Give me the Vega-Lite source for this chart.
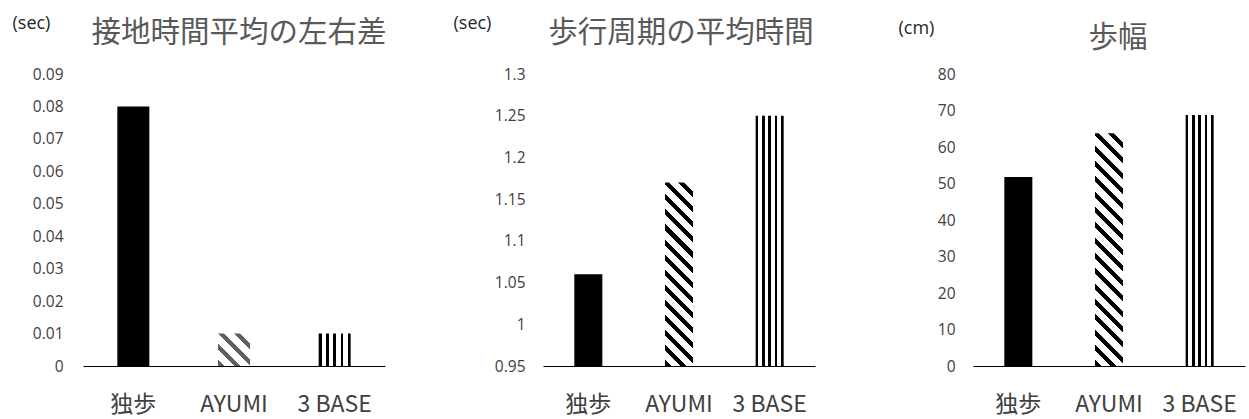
{
  "$schema": "https://vega.github.io/schema/vega-lite/v6.json",
  "padding": {"left": 12, "top": 14, "right": 2, "bottom": 4},
  "bounds": "flush",
  "spacing": 158,
  "background": "white",
  "config": {
    "view": {"stroke": null},
    "axis": {"grid": false, "ticks": false},
    "axisX": {
      "title": null, "labelAngle": 0, "domainColor": "#000000", "domainWidth": 1.2,
      "labelFont": "Noto Sans CJK JP", "labelFontSize": 23, "labelColor": "#404040", "labelPadding": 27
    },
    "axisY": {
      "domain": false, "labelFont": "Open Sans", "labelFontSize": 15.5, "labelColor": "#404040",
      "labelPadding": 18,
      "titleAngle": 0, "titleAlign": "left", "titleBaseline": "middle", "titleFont": "Open Sans",
      "titleFontSize": 18, "titleFontWeight": "normal", "titleColor": "#262626"
    },
    "title": {"font": "Noto Sans CJK JP", "fontSize": 29.5, "fontWeight": "normal", "color": "#595959", "anchor": "middle", "offset": -34.5}
  },
  "datasets": {
    "contact": [
      {"category": "独歩", "value": 0.08},
      {"category": "AYUMI", "value": 0.01},
      {"category": "3 BASE", "value": 0.01}
    ],
    "cycle": [
      {"category": "独歩", "value": 1.06},
      {"category": "AYUMI", "value": 1.17},
      {"category": "3 BASE", "value": 1.25}
    ],
    "stride": [
      {"category": "独歩", "value": 51.8},
      {"category": "AYUMI", "value": 63.8},
      {"category": "3 BASE", "value": 68.8}
    ]
  },
  "hconcat": [
    {
      "width": 302, "height": 292,
      "title": {"text": "接地時間平均の左右差", "dx": 5},
      "data": {"name": "contact"},
      "encoding": {
        "x": {"field": "category", "type": "nominal", "sort": null,
              "scale": {"domain": ["独歩", "AYUMI", "3 BASE"], "paddingInner": 0.682, "paddingOuter": 0.341}},
        "y": {"field": "value", "type": "quantitative",
              "scale": {"domain": [0, 0.09], "nice": false},
              "axis": {"values": [0, 0.01, 0.02, 0.03, 0.04, 0.05, 0.06, 0.07, 0.08, 0.09], "labelPadding": 20, "format": "~g",
                       "title": "(sec)", "titleX": -71, "titleY": -51}}
      },
      "layer": [
        {"transform": [{"filter": "datum.category === '独歩'"}], "mark": {"type": "bar", "fill": "#000000"}},
        {"transform": [{"filter": "datum.category === 'AYUMI'"}], "mark": {"type": "bar", "fill": {
          "gradient": "linear", "x1": 0, "y1": 1, "x2": 0.9937, "y2": -0.0062,
          "stops": [
            {"offset": 0, "color": "#606060"}, {"offset": 0.1, "color": "#606060"},
            {"offset": 0.1, "color": "#ffffff"}, {"offset": 0.25, "color": "#ffffff"},
            {"offset": 0.25, "color": "#606060"}, {"offset": 0.35, "color": "#606060"},
            {"offset": 0.35, "color": "#ffffff"}, {"offset": 0.5, "color": "#ffffff"},
            {"offset": 0.5, "color": "#606060"}, {"offset": 0.6, "color": "#606060"},
            {"offset": 0.6, "color": "#ffffff"}, {"offset": 0.75, "color": "#ffffff"},
            {"offset": 0.75, "color": "#606060"}, {"offset": 0.85, "color": "#606060"},
            {"offset": 0.85, "color": "#ffffff"}, {"offset": 1, "color": "#ffffff"}
          ]}}},
        {"transform": [{"filter": "datum.category === '3 BASE'"}], "mark": {"type": "bar", "fill": {
          "gradient": "linear", "x1": 0, "y1": 0, "x2": 1, "y2": 0,
          "stops": [
            {"offset": 0, "color": "#000000"}, {"offset": 0.09, "color": "#000000"},
            {"offset": 0.09, "color": "#ffffff"}, {"offset": 0.2275, "color": "#ffffff"},
            {"offset": 0.2275, "color": "#000000"}, {"offset": 0.3175, "color": "#000000"},
            {"offset": 0.3175, "color": "#ffffff"}, {"offset": 0.455, "color": "#ffffff"},
            {"offset": 0.455, "color": "#000000"}, {"offset": 0.545, "color": "#000000"},
            {"offset": 0.545, "color": "#ffffff"}, {"offset": 0.6825, "color": "#ffffff"},
            {"offset": 0.6825, "color": "#000000"}, {"offset": 0.7725, "color": "#000000"},
            {"offset": 0.7725, "color": "#ffffff"}, {"offset": 0.91, "color": "#ffffff"},
            {"offset": 0.91, "color": "#000000"}, {"offset": 1, "color": "#000000"}
          ]}}}
      ]
    },
    {
      "width": 272, "height": 292,
      "title": {"text": "歩行周期の平均時間", "dx": 2},
      "data": {"name": "cycle"},
      "encoding": {
        "x": {"field": "category", "type": "nominal", "sort": null,
              "scale": {"domain": ["独歩", "AYUMI", "3 BASE"], "paddingInner": 0.691, "paddingOuter": 0.3455}},
        "y": {"field": "value", "type": "quantitative",
              "scale": {"domain": [0.95, 1.3], "nice": false, "zero": false},
              "axis": {"values": [0.95, 1, 1.05, 1.1, 1.15, 1.2, 1.25, 1.3], "format": "~g",
                       "title": "(sec)", "titleX": -90, "titleY": -51}},
        "y2": {"datum": 0.95}
      },
      "layer": [
        {"transform": [{"filter": "datum.category === '独歩'"}], "mark": {"type": "bar", "fill": "#000000"}},
        {"transform": [{"filter": "datum.category === 'AYUMI'"}], "mark": {"type": "bar", "fill": {
          "gradient": "linear", "x1": 0, "y1": 1, "x2": 0.17187, "y2": -0.12636,
          "stops": [
            {"offset": 0, "color": "#000000"}, {"offset": 0.028571, "color": "#000000"},
            {"offset": 0.028571, "color": "#ffffff"}, {"offset": 0.071429, "color": "#ffffff"},
            {"offset": 0.071429, "color": "#000000"}, {"offset": 0.1, "color": "#000000"},
            {"offset": 0.1, "color": "#ffffff"}, {"offset": 0.142857, "color": "#ffffff"},
            {"offset": 0.142857, "color": "#000000"}, {"offset": 0.171429, "color": "#000000"},
            {"offset": 0.171429, "color": "#ffffff"}, {"offset": 0.214286, "color": "#ffffff"},
            {"offset": 0.214286, "color": "#000000"}, {"offset": 0.242857, "color": "#000000"},
            {"offset": 0.242857, "color": "#ffffff"}, {"offset": 0.285714, "color": "#ffffff"},
            {"offset": 0.285714, "color": "#000000"}, {"offset": 0.314286, "color": "#000000"},
            {"offset": 0.314286, "color": "#ffffff"}, {"offset": 0.357143, "color": "#ffffff"},
            {"offset": 0.357143, "color": "#000000"}, {"offset": 0.385714, "color": "#000000"},
            {"offset": 0.385714, "color": "#ffffff"}, {"offset": 0.428571, "color": "#ffffff"},
            {"offset": 0.428571, "color": "#000000"}, {"offset": 0.457143, "color": "#000000"},
            {"offset": 0.457143, "color": "#ffffff"}, {"offset": 0.5, "color": "#ffffff"},
            {"offset": 0.5, "color": "#000000"}, {"offset": 0.528571, "color": "#000000"},
            {"offset": 0.528571, "color": "#ffffff"}, {"offset": 0.571429, "color": "#ffffff"},
            {"offset": 0.571429, "color": "#000000"}, {"offset": 0.6, "color": "#000000"},
            {"offset": 0.6, "color": "#ffffff"}, {"offset": 0.642857, "color": "#ffffff"},
            {"offset": 0.642857, "color": "#000000"}, {"offset": 0.671429, "color": "#000000"},
            {"offset": 0.671429, "color": "#ffffff"}, {"offset": 0.714286, "color": "#ffffff"},
            {"offset": 0.714286, "color": "#000000"}, {"offset": 0.742857, "color": "#000000"},
            {"offset": 0.742857, "color": "#ffffff"}, {"offset": 0.785714, "color": "#ffffff"},
            {"offset": 0.785714, "color": "#000000"}, {"offset": 0.814286, "color": "#000000"},
            {"offset": 0.814286, "color": "#ffffff"}, {"offset": 0.857143, "color": "#ffffff"},
            {"offset": 0.857143, "color": "#000000"}, {"offset": 0.885714, "color": "#000000"},
            {"offset": 0.885714, "color": "#ffffff"}, {"offset": 0.928571, "color": "#ffffff"},
            {"offset": 0.928571, "color": "#000000"}, {"offset": 0.957143, "color": "#000000"},
            {"offset": 0.957143, "color": "#ffffff"}, {"offset": 1, "color": "#ffffff"}
          ]}}},
        {"transform": [{"filter": "datum.category === '3 BASE'"}], "mark": {"type": "bar", "fill": {
          "gradient": "linear", "x1": 0, "y1": 0, "x2": 1, "y2": 0,
          "stops": [
            {"offset": 0, "color": "#000000"}, {"offset": 0.09, "color": "#000000"},
            {"offset": 0.09, "color": "#ffffff"}, {"offset": 0.2275, "color": "#ffffff"},
            {"offset": 0.2275, "color": "#000000"}, {"offset": 0.3175, "color": "#000000"},
            {"offset": 0.3175, "color": "#ffffff"}, {"offset": 0.455, "color": "#ffffff"},
            {"offset": 0.455, "color": "#000000"}, {"offset": 0.545, "color": "#000000"},
            {"offset": 0.545, "color": "#ffffff"}, {"offset": 0.6825, "color": "#ffffff"},
            {"offset": 0.6825, "color": "#000000"}, {"offset": 0.7725, "color": "#000000"},
            {"offset": 0.7725, "color": "#ffffff"}, {"offset": 0.91, "color": "#ffffff"},
            {"offset": 0.91, "color": "#000000"}, {"offset": 1, "color": "#000000"}
          ]}}}
      ]
    },
    {
      "width": 272, "height": 292,
      "title": {"text": "歩幅", "dx": 9},
      "data": {"name": "stride"},
      "encoding": {
        "x": {"field": "category", "type": "nominal", "sort": null,
              "scale": {"domain": ["独歩", "AYUMI", "3 BASE"], "paddingInner": 0.691, "paddingOuter": 0.3455}},
        "y": {"field": "value", "type": "quantitative",
              "scale": {"domain": [0, 80], "nice": false},
              "axis": {"values": [0, 10, 20, 30, 40, 50, 60, 70, 80], "format": "d",
                       "title": "(cm)", "titleX": -75, "titleY": -46}}
      },
      "layer": [
        {"transform": [{"filter": "datum.category === '独歩'"}], "mark": {"type": "bar", "fill": "#000000"}},
        {"transform": [{"filter": "datum.category === 'AYUMI'"}], "mark": {"type": "bar", "fill": {
          "gradient": "linear", "x1": 0, "y1": 1, "x2": 0.13276, "y2": -0.10427,
          "stops": [
            {"offset": 0, "color": "#000000"}, {"offset": 0.023529, "color": "#000000"},
            {"offset": 0.023529, "color": "#ffffff"}, {"offset": 0.058824, "color": "#ffffff"},
            {"offset": 0.058824, "color": "#000000"}, {"offset": 0.082353, "color": "#000000"},
            {"offset": 0.082353, "color": "#ffffff"}, {"offset": 0.117647, "color": "#ffffff"},
            {"offset": 0.117647, "color": "#000000"}, {"offset": 0.141176, "color": "#000000"},
            {"offset": 0.141176, "color": "#ffffff"}, {"offset": 0.176471, "color": "#ffffff"},
            {"offset": 0.176471, "color": "#000000"}, {"offset": 0.2, "color": "#000000"},
            {"offset": 0.2, "color": "#ffffff"}, {"offset": 0.235294, "color": "#ffffff"},
            {"offset": 0.235294, "color": "#000000"}, {"offset": 0.258824, "color": "#000000"},
            {"offset": 0.258824, "color": "#ffffff"}, {"offset": 0.294118, "color": "#ffffff"},
            {"offset": 0.294118, "color": "#000000"}, {"offset": 0.317647, "color": "#000000"},
            {"offset": 0.317647, "color": "#ffffff"}, {"offset": 0.352941, "color": "#ffffff"},
            {"offset": 0.352941, "color": "#000000"}, {"offset": 0.376471, "color": "#000000"},
            {"offset": 0.376471, "color": "#ffffff"}, {"offset": 0.411765, "color": "#ffffff"},
            {"offset": 0.411765, "color": "#000000"}, {"offset": 0.435294, "color": "#000000"},
            {"offset": 0.435294, "color": "#ffffff"}, {"offset": 0.470588, "color": "#ffffff"},
            {"offset": 0.470588, "color": "#000000"}, {"offset": 0.494118, "color": "#000000"},
            {"offset": 0.494118, "color": "#ffffff"}, {"offset": 0.529412, "color": "#ffffff"},
            {"offset": 0.529412, "color": "#000000"}, {"offset": 0.552941, "color": "#000000"},
            {"offset": 0.552941, "color": "#ffffff"}, {"offset": 0.588235, "color": "#ffffff"},
            {"offset": 0.588235, "color": "#000000"}, {"offset": 0.611765, "color": "#000000"},
            {"offset": 0.611765, "color": "#ffffff"}, {"offset": 0.647059, "color": "#ffffff"},
            {"offset": 0.647059, "color": "#000000"}, {"offset": 0.670588, "color": "#000000"},
            {"offset": 0.670588, "color": "#ffffff"}, {"offset": 0.705882, "color": "#ffffff"},
            {"offset": 0.705882, "color": "#000000"}, {"offset": 0.729412, "color": "#000000"},
            {"offset": 0.729412, "color": "#ffffff"}, {"offset": 0.764706, "color": "#ffffff"},
            {"offset": 0.764706, "color": "#000000"}, {"offset": 0.788235, "color": "#000000"},
            {"offset": 0.788235, "color": "#ffffff"}, {"offset": 0.823529, "color": "#ffffff"},
            {"offset": 0.823529, "color": "#000000"}, {"offset": 0.847059, "color": "#000000"},
            {"offset": 0.847059, "color": "#ffffff"}, {"offset": 0.882353, "color": "#ffffff"},
            {"offset": 0.882353, "color": "#000000"}, {"offset": 0.905882, "color": "#000000"},
            {"offset": 0.905882, "color": "#ffffff"}, {"offset": 0.941176, "color": "#ffffff"},
            {"offset": 0.941176, "color": "#000000"}, {"offset": 0.964706, "color": "#000000"},
            {"offset": 0.964706, "color": "#ffffff"}, {"offset": 1, "color": "#ffffff"}
          ]}}},
        {"transform": [{"filter": "datum.category === '3 BASE'"}], "mark": {"type": "bar", "fill": {
          "gradient": "linear", "x1": 0, "y1": 0, "x2": 1, "y2": 0,
          "stops": [
            {"offset": 0, "color": "#000000"}, {"offset": 0.09, "color": "#000000"},
            {"offset": 0.09, "color": "#ffffff"}, {"offset": 0.2275, "color": "#ffffff"},
            {"offset": 0.2275, "color": "#000000"}, {"offset": 0.3175, "color": "#000000"},
            {"offset": 0.3175, "color": "#ffffff"}, {"offset": 0.455, "color": "#ffffff"},
            {"offset": 0.455, "color": "#000000"}, {"offset": 0.545, "color": "#000000"},
            {"offset": 0.545, "color": "#ffffff"}, {"offset": 0.6825, "color": "#ffffff"},
            {"offset": 0.6825, "color": "#000000"}, {"offset": 0.7725, "color": "#000000"},
            {"offset": 0.7725, "color": "#ffffff"}, {"offset": 0.91, "color": "#ffffff"},
            {"offset": 0.91, "color": "#000000"}, {"offset": 1, "color": "#000000"}
          ]}}}
      ]
    }
  ]
}
